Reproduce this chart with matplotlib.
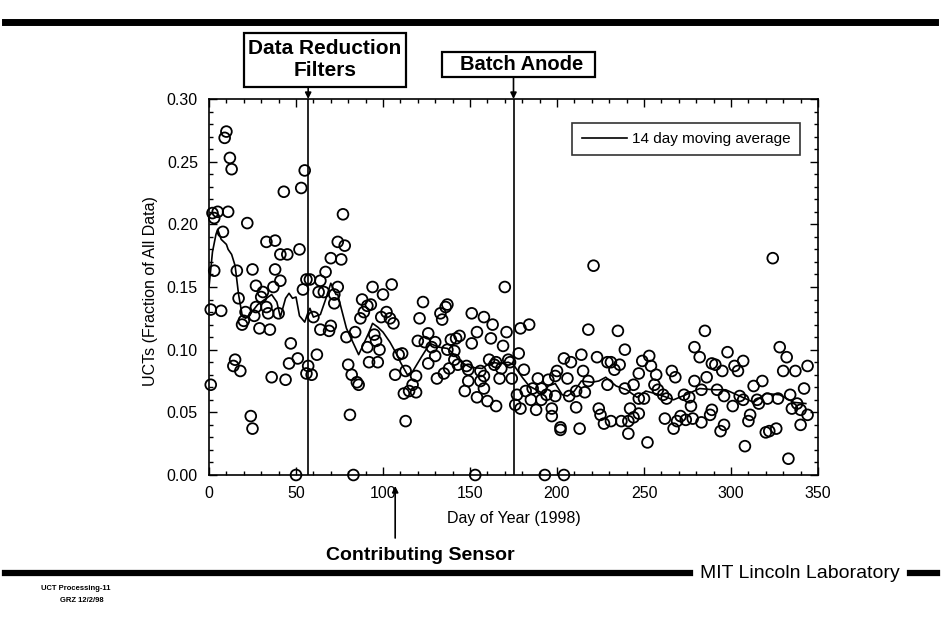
import matplotlib
matplotlib.use("Agg")
import matplotlib.pyplot as plt
from matplotlib.lines import Line2D
from matplotlib.patches import Rectangle
from matplotlib.ticker import MultipleLocator

plt.rcParams['font.family'] = ['Liberation Sans', 'DejaVu Sans']

# daily UCT fraction
days = [10, 9, 12, 13, 55, 43, 53, 2, 5, 3, 11, 22, 8, 33, 38, 41, 45, 52,
        3, 16, 25, 38, 41, 27, 31, 37, 54, 56, 30, 17, 1, 7, 27, 33, 21, 26,
        34, 40, 19, 20, 29, 35, 47, 15, 14, 18, 51, 46, 56, 57, 59, 36, 44,
        1, 24, 25, 50,
        77, 74, 78, 70, 76, 58, 67, 64, 63, 66, 74, 72, 72, 94, 105, 100, 88,
        91, 93, 89, 102, 87, 99, 104, 106, 60, 70, 64, 69, 79, 84, 95, 96, 91,
        98, 62, 111, 109, 92, 97, 80, 82, 85, 86, 107, 113, 112, 115, 81, 113,
        83,
        170, 123, 137, 136, 133, 134, 121, 151, 158, 163, 126, 120, 124, 144,
        142, 154, 162, 171, 130, 128, 139, 151, 137, 141, 169, 130, 126, 141,
        143, 161, 165, 164, 168, 172, 148, 149, 119, 135, 131, 138, 156, 158,
        149, 156, 167, 117, 119, 147, 158, 154, 160, 165, 153,
        221, 179, 184, 218, 178, 173, 214, 204, 223, 208, 229, 181, 200, 215,
        199, 174, 189, 195, 206, 218, 229, 186, 191, 182, 211, 216, 177, 194,
        199, 207, 185, 191, 176, 179, 188, 197, 211, 224, 197, 225, 227, 202,
        202, 213, 193, 204,
        235, 285, 239, 279, 282, 231, 236, 253, 249, 233, 247, 254, 257, 266,
        268, 279, 286, 289, 239, 244, 256, 258, 261, 263, 273, 276, 283, 247,
        250, 277, 242, 247, 244, 231, 237, 241, 262, 271, 269, 274, 278, 283,
        267, 241, 252, 289,
        324, 298, 328, 332, 307, 291, 295, 302, 304, 330, 337, 344, 318, 342,
        292, 296, 301, 305, 307, 313, 315, 316, 321, 327, 334, 335, 338, 340,
        344, 288, 296, 294, 311, 310, 320, 322, 326, 340, 308, 333]
ucts = [0.274, 0.269, 0.253, 0.244, 0.243, 0.226, 0.229, 0.209, 0.210, 0.205,
        0.210, 0.201, 0.194, 0.186, 0.187, 0.176, 0.176, 0.180,
        0.163, 0.163, 0.164, 0.164, 0.155, 0.151, 0.146, 0.150, 0.148, 0.156,
        0.142, 0.141, 0.132, 0.131, 0.134, 0.134, 0.130, 0.127, 0.129, 0.129,
        0.120, 0.123, 0.117, 0.116, 0.105, 0.092, 0.087, 0.083, 0.093, 0.089,
        0.081, 0.087, 0.080, 0.078, 0.076, 0.072, 0.047, 0.037, 0.0,
        0.208, 0.186, 0.183, 0.173, 0.172, 0.156, 0.162, 0.155, 0.146, 0.146,
        0.150, 0.144, 0.137, 0.150, 0.152, 0.144, 0.140, 0.135, 0.136, 0.130,
        0.130, 0.125, 0.126, 0.125, 0.121, 0.126, 0.119, 0.116, 0.115, 0.110,
        0.114, 0.112, 0.107, 0.102, 0.100, 0.096, 0.097, 0.096, 0.090, 0.090,
        0.088, 0.080, 0.074, 0.072, 0.080, 0.083, 0.065, 0.067, 0.048, 0.043,
        0.0,
        0.150, 0.138, 0.136, 0.134, 0.129, 0.124, 0.125, 0.129, 0.126, 0.120,
        0.113, 0.107, 0.106, 0.111, 0.109, 0.114, 0.109, 0.114, 0.106, 0.102,
        0.108, 0.105, 0.100, 0.099, 0.103, 0.095, 0.089, 0.092, 0.088, 0.092,
        0.090, 0.088, 0.085, 0.092, 0.087, 0.084, 0.079, 0.081, 0.077, 0.085,
        0.083, 0.079, 0.075, 0.075, 0.077, 0.072, 0.066, 0.067, 0.069, 0.062,
        0.059, 0.055, 0.0,
        0.167, 0.117, 0.120, 0.116, 0.097, 0.090, 0.096, 0.093, 0.094, 0.090,
        0.090, 0.084, 0.083, 0.083, 0.079, 0.077, 0.077, 0.076, 0.077, 0.075,
        0.072, 0.069, 0.069, 0.067, 0.067, 0.066, 0.064, 0.064, 0.063, 0.063,
        0.060, 0.060, 0.056, 0.053, 0.052, 0.053, 0.054, 0.053, 0.047, 0.048,
        0.041, 0.038, 0.036, 0.037, 0.0, 0.0,
        0.115, 0.115, 0.100, 0.102, 0.094, 0.090, 0.088, 0.095, 0.091, 0.084,
        0.081, 0.087, 0.080, 0.083, 0.078, 0.075, 0.078, 0.089, 0.069, 0.072,
        0.072, 0.068, 0.064, 0.061, 0.064, 0.062, 0.068, 0.061, 0.061, 0.055,
        0.053, 0.049, 0.046, 0.043, 0.043, 0.043, 0.045, 0.047, 0.043, 0.044,
        0.045, 0.042, 0.037, 0.033, 0.026, 0.052,
        0.173, 0.098, 0.102, 0.094, 0.091, 0.088, 0.083, 0.087, 0.083, 0.083,
        0.083, 0.087, 0.075, 0.069, 0.068, 0.063, 0.055, 0.063, 0.060, 0.071,
        0.060, 0.057, 0.061, 0.061, 0.064, 0.053, 0.057, 0.052, 0.048, 0.048,
        0.040, 0.035, 0.048, 0.043, 0.034, 0.035, 0.037, 0.040, 0.023, 0.013]

# 14 day moving average
ma_days = [0, 2, 4, 5, 7, 10, 11, 13, 15, 17, 19, 21, 24, 28, 32, 36, 39, 41,
           44, 46, 48, 50, 52, 55, 57, 58, 60, 64, 67, 70, 73, 74, 76, 79, 82,
           86, 89, 92, 94, 97, 100, 104, 108, 110, 114, 117, 122, 127, 132,
           137, 141, 145, 150, 157, 162, 167, 172, 175, 180, 184, 188, 192,
           195, 199, 203, 206, 210, 214, 220, 224, 228, 234, 240, 246, 251,
           259, 267, 274, 282, 290, 297, 305, 313, 320, 328, 336, 343]
ma_vals = [0.150, 0.178, 0.192, 0.196, 0.188, 0.184, 0.180, 0.176, 0.167,
           0.144, 0.128, 0.125, 0.129, 0.136, 0.140, 0.144, 0.138, 0.126,
           0.141, 0.145, 0.141, 0.142, 0.127, 0.122, 0.130, 0.133, 0.126,
           0.128, 0.140, 0.153, 0.144, 0.144, 0.133, 0.117, 0.108, 0.096,
           0.105, 0.114, 0.121, 0.118, 0.114, 0.106, 0.096, 0.090, 0.080,
           0.0825, 0.094, 0.105, 0.102, 0.101, 0.096, 0.090, 0.086, 0.085,
           0.090, 0.089, 0.090, 0.088, 0.078, 0.071, 0.068, 0.065, 0.071,
           0.073, 0.064, 0.063, 0.067, 0.075, 0.074, 0.075, 0.078, 0.071,
           0.068, 0.062, 0.067, 0.064, 0.060, 0.064, 0.069, 0.068, 0.068,
           0.063, 0.058, 0.065, 0.064, 0.058, 0.057]

events = {"filters": 57, "anode": 175, "sensor": 107}

W, H = 943, 624
fig = plt.figure(figsize=(W / 100, H / 100), dpi=100)
ax = fig.add_axes([209 / W, 1 - 475 / H, 609 / W, 376 / H])


def fx(px):
    return px / W


def fy(px):
    return 1 - px / H


ax.scatter(days, ucts, s=60, facecolors='none', edgecolors='black',
           linewidths=1.3, clip_on=False, zorder=3)
ax.plot(ma_days, ma_vals, color='black', lw=1.2,
        label='14 day moving average', zorder=4)

ax.set_xlim(0, 350)
ax.set_ylim(0, 0.30)
ax.xaxis.set_major_locator(MultipleLocator(50))
ax.xaxis.set_minor_locator(MultipleLocator(10))
ax.yaxis.set_major_locator(MultipleLocator(0.05))
ax.yaxis.set_minor_locator(MultipleLocator(0.01))
ax.yaxis.set_major_formatter(plt.FuncFormatter(lambda v, p: f"{v:.2f}"))
ax.tick_params(which='both', direction='in', top=True, right=True,
               labelsize=11.5, width=1)
ax.tick_params(which='major', length=6)
ax.tick_params(which='minor', length=3)
ax.tick_params(axis='x', pad=8)
ax.tick_params(axis='y', pad=8)
for s in ax.spines.values():
    s.set_linewidth(1.2)

ax.set_xlabel("Day of Year (1998)", fontsize=11.5)
ax.xaxis.set_label_coords(0.5, (475 - 511) / 376)
ax.set_ylabel("UCTs (Fraction of All Data)", fontsize=11.5)
ax.yaxis.set_label_coords((158 - 209) / 609, 0.49)

leg = ax.legend(loc='upper right', bbox_to_anchor=(0.970, 0.936), frameon=True,
                fancybox=False, edgecolor='black', fontsize=11,
                handlelength=3.0, borderpad=0.6, handletextpad=0.3,
                borderaxespad=0)
leg.get_frame().set_linewidth(1.2)

# event markers
ax.axvline(events["filters"], color='black', lw=1.2, zorder=2)
ax.axvline(events["anode"], color='black', lw=1.2, zorder=2)
for d, ytop in [(events["filters"], 87), (events["anode"], 77)]:
    ax.annotate('', xy=(d, 0.30), xycoords='data',
                xytext=(d, fy(ytop)), textcoords=('data', 'figure fraction'),
                arrowprops=dict(arrowstyle='-|>', color='black', lw=1.2,
                                mutation_scale=9, shrinkA=0, shrinkB=0))

fig.add_artist(Rectangle((fx(244), fy(87)), fx(406) - fx(244), fy(33) - fy(87),
                         transform=fig.transFigure, fc='white', ec='black',
                         lw=1.6, zorder=5))
fig.text(fx(325), fy(59), "Data Reduction\nFilters", ha='center',
         va='center', fontsize=15, fontweight='bold', linespacing=1.2,
         zorder=6)
fig.add_artist(Rectangle((fx(442), fy(77)), fx(595) - fx(442), fy(52) - fy(77),
                         transform=fig.transFigure, fc='white', ec='black',
                         lw=1.6, zorder=5))
fig.text(fx(522), fy(64), "Batch Anode", ha='center', va='center',
         fontsize=14.5, fontweight='bold', zorder=6)

ax.annotate('', xy=(events["sensor"], fy(486)),
            xycoords=('data', 'figure fraction'),
            xytext=(events["sensor"], fy(538)),
            textcoords=('data', 'figure fraction'),
            arrowprops=dict(arrowstyle='-|>', color='black', lw=1.2,
                            mutation_scale=9, shrinkA=0, shrinkB=0))
fig.text(fx(420), fy(555), "Contributing Sensor", ha='center', va='center',
         fontsize=14, fontweight='bold')

# page furniture
fig.add_artist(Line2D([fx(5), fx(935)], [fy(22)] * 2, color='black', lw=5))
fig.add_artist(Line2D([fx(5), fx(690)], [fy(573)] * 2, color='black', lw=4.5))
fig.add_artist(Line2D([fx(910), fx(937)], [fy(573)] * 2, color='black', lw=4.5))
fig.text(fx(800), fy(573), "MIT Lincoln Laboratory", ha='center',
         va='center', fontsize=14)
fig.text(fx(76), fy(589), "UCT Processing-11", ha='center', va='center',
         fontsize=5.5, fontweight='bold')
fig.text(fx(82), fy(600), "GRZ 12/2/98", ha='center', va='center',
         fontsize=5.5, fontweight='bold')

fig.savefig("out.png", dpi=100)
